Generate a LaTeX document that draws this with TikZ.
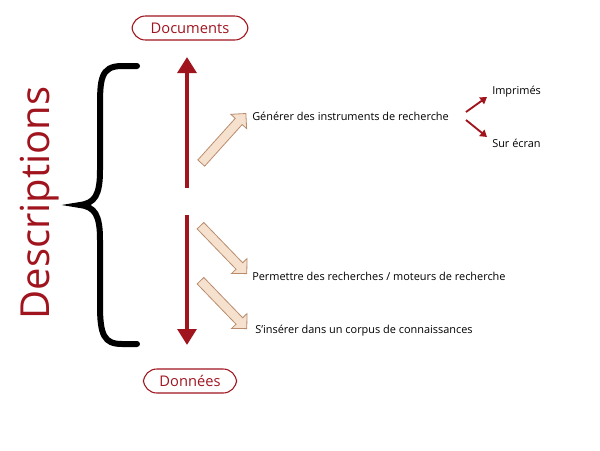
\documentclass[tikz,border=0pt]{standalone}
\usepackage{fontspec}
\setmainfont{Open Sans}
\usetikzlibrary{shapes.arrows,arrows.meta}
\definecolor{dred}{RGB}{160,20,30}
\definecolor{beige}{RGB}{245,225,205}
\definecolor{beigeline}{RGB}{185,140,110}
\begin{document}
\begin{tikzpicture}[x=0.75pt,y=-0.75pt,
  lbl/.style={draw=dred,rounded corners=10pt,text=dred,font=\fontsize{11}{13}\selectfont,inner xsep=14pt,minimum height=18pt,line width=0.8pt},
  bigarrow/.style={draw=dred,line width=3pt,-{Triangle[length=12pt,width=14pt]}},
  hollow/.style={single arrow,draw=beigeline,fill=beige,minimum height=50pt,minimum width=16pt,single arrow head extend=3pt,single arrow tip angle=90,inner sep=2pt,line width=0.6pt},
  txt/.style={anchor=west,font=\fontsize{8.2}{10}\selectfont,inner sep=0pt},
  small/.style={draw=dred,line width=1.4pt,-{Triangle[length=5pt,width=6pt]}}]
\path[use as bounding box] (0,0) rectangle (600,450);
\node[lbl] (doc) at (190,28) {Documents};
\node[lbl,inner xsep=12pt] (don) at (190,381) {Données};
\coordinate (u0) at (187,188); \coordinate (u1) at (187,57);
\coordinate (d0) at (187,215); \coordinate (d1) at (187,345);
\draw[bigarrow] (u0) -- (u1);
\draw[bigarrow] (d0) -- (d1);
% brace
\draw[line width=4.5pt,line cap=round] (137,66) -- (122,66) .. controls (100,66) and (100,80) .. (100,110)
  -- (100,170) .. controls (100,195) and (95,203) .. (80,205)
  .. controls (95,207) and (100,215) .. (100,240) -- (100,305)
  .. controls (100,335) and (104,344) .. (122,344) -- (137,344);
\node[rotate=90,text=dred,font=\fontsize{30}{34}\selectfont] (desc) at (40,203) {Descriptions};
\node[hollow,rotate=48] (h1) at (222,140) {};
\node[hollow,rotate=-46] (h2) at (222,248) {};
\node[hollow,rotate=-46] (h3) at (222,303) {};
\node[txt] (gen) at (252,116) {Générer des instruments de recherche};
\node[txt] (imp) at (492,92) {Imprimés};
\node[txt] (sur) at (492,143) {Sur écran};
\node[txt] (perm) at (252,276) {Permettre des recherches / moteurs de recherche};
\node[txt] (ins) at (255,331) {S’insérer dans un corpus de connaissances};
\coordinate (g1) at (466,112); \coordinate (g2) at (466,120);
\coordinate (i1) at (487,97); \coordinate (s1) at (487,137);
\draw[small] (g1) -- (i1);
\draw[small] (g2) -- (s1);
\end{tikzpicture}
\end{document}
